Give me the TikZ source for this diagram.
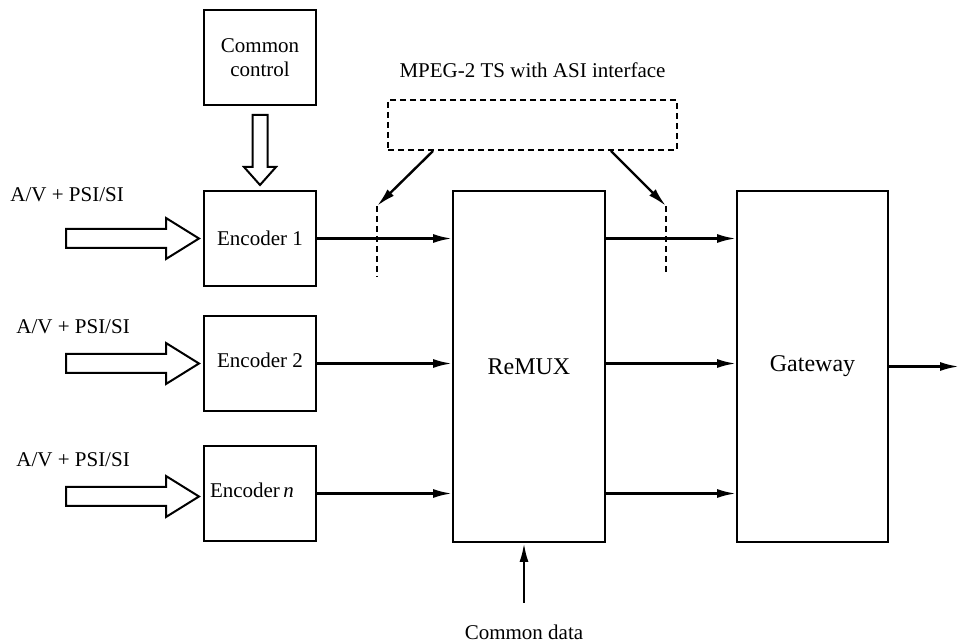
\documentclass[tikz,border=0pt]{standalone}
\usepackage{fontspec}
\setmainfont{Liberation Serif}
\usetikzlibrary{positioning,arrows.meta}
\begin{document}
\begin{tikzpicture}[x=0.5pt,y=-0.5pt,
        font=\fontsize{10.5}{12}\selectfont,
        box/.style={draw,line width=1pt,inner sep=0pt,align=center},
        enc/.style={box,minimum width=56pt,minimum height=47.5pt},
        tall/.style={box,minimum width=76pt,minimum height=175.5pt,font=\fontsize{12}{14}\selectfont},
        flow/.style={line width=1.2pt,-{Latex[length=9.5pt,width=4.5pt]}},
        fat/.style={draw,line width=1pt,fill=white},
        tap/.style={line width=1pt,dash pattern=on 3pt off 2pt},
        fatright/.pic={\draw[fat] (0,0) -- (-33,-20.5) -- (-33,-9.5) -- (-133,-9.5)
            -- (-133,9.5) -- (-33,9.5) -- (-33,20.5) -- cycle;}]
        \useasboundingbox (0,0) rectangle (960,641);

        \node[enc] (ctrl) at (260,58) {Common\\control};
        \node[enc] (enc1) at (260,238.5) {Encoder 1};
        \node[enc] (enc2) at (260,363.5) {\raisebox{3pt}{Encoder 2}};
        \node[enc] (encn) at (260,493.5) {\raisebox{3.5pt}{Encoder\,\textit{n}}\hspace{8pt}};
        \node[tall] (remux) at (529,366.5) {ReMUX};
        \node[tall,minimum width=75.5pt] (gw) at (812.5,366.5) {Gateway};
        \node[box,dash pattern=on 3pt off 2pt,minimum width=144.5pt,minimum height=25pt] (asi) at (532.5,125) {};
        \node[above=7pt of asi] (lasi) {MPEG-2 TS with ASI interface};

        % inputs
        \node[anchor=west,inner sep=0pt] (lenc1) at (10,195) {A/V + PSI/SI};
        \node[anchor=west,inner sep=0pt] (lenc2) at (16,327) {A/V + PSI/SI};
        \node[anchor=west,inner sep=0pt] (lencn) at (16,460) {A/V + PSI/SI};
        \pic at ([xshift=-2pt]enc1.west) {fatright};
        \pic at ([xshift=-2pt]enc2.west) {fatright};
        \pic at ([xshift=-2pt,yshift=-1.5pt]encn.west) {fatright};

        % control arrow
        \draw[fat] ([yshift=2.5pt]enc1.north) -- ++(-16,-18) -- ++(8.5,0) -- ++(0,-52)
            -- ++(15,0) -- ++(0,52) -- ++(8.5,0) -- cycle;

        \draw[flow] (enc1.east) -- (enc1.east -| remux.west);
        \draw[flow] (enc2.east) -- (enc2.east -| remux.west);
        \draw[flow] (encn.east) -- (encn.east -| remux.west);
        \draw[flow] (enc1.east -| remux.east) -- (enc1.east -| gw.west);
        \draw[flow] (enc2.east -| remux.east) -- (enc2.east -| gw.west);
        \draw[flow] (encn.east -| remux.east) -- (encn.east -| gw.west);

        \coordinate (out) at (959,366.5);
        \draw[flow] (gw.east) -- (out);

        % common data
        \node (ldata) at (524,632) {Common data};
        \coordinate (din) at (524,603);
        \draw[flow] (din) -- (din |- remux.south);

        % ASI taps
        \coordinate (t1a) at (377,206);
        \coordinate (t1b) at (377,277);
        \coordinate (t2a) at (666,206);
        \coordinate (t2b) at (666,272);
        \draw[tap] (t1a) -- (t1b);
        \draw[tap] (t2a) -- (t2b);
        \draw[flow] ([xshift=23pt]asi.south west) -- (t1a);
        \draw[flow] ([xshift=-33.5pt]asi.south east) -- (t2a);
    \end{tikzpicture}
\end{document}
